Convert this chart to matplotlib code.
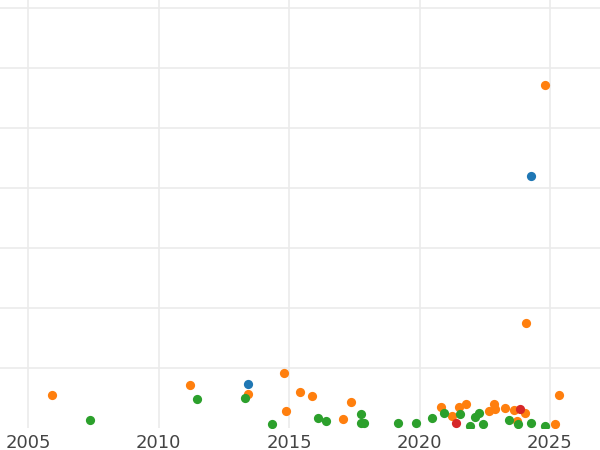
import matplotlib
matplotlib.use("Agg")
import matplotlib.pyplot as plt

# Data (year, value) per series
blue_x = [2013.43, 2024.28]
blue_y = [7.3, 41.9]

orange_x = [2005.91, 2011.21, 2013.44, 2014.81, 2014.90, 2015.42, 2015.89, 2017.07,
            2017.36, 2020.83, 2021.23, 2021.51, 2021.77, 2022.68, 2022.84, 2022.90,
            2023.28, 2023.63, 2023.72, 2024.06, 2025.18, 2025.36, 2024.81, 2024.09]
orange_y = [5.47, 7.08, 5.63, 9.03, 2.75, 5.87, 5.3, 1.47,
            4.2, 3.38, 1.95, 3.4, 3.88, 2.78, 3.88, 3.08,
            3.2, 2.92, 1.08, 2.47, 0.58, 5.45, 57.03, 17.37]

green_x = [2007.39, 2011.49, 2013.30, 2014.35, 2016.12, 2016.42, 2017.75, 2017.76,
           2017.87, 2019.16, 2019.85, 2020.47, 2020.94, 2021.55, 2021.92, 2022.13,
           2022.27, 2022.43, 2023.41, 2023.76, 2024.27, 2024.81]
green_y = [1.25, 4.7, 4.97, 0.58, 1.62, 1.08, 2.3, 0.67,
           0.7, 0.7, 0.8, 1.53, 2.37, 2.2, 0.3, 1.7,
           2.47, 0.55, 1.17, 0.53, 0.8, 0.3]

red_x = [2021.40, 2023.85]
red_y = [0.83, 3.08]

xticks = [2005, 2010, 2015, 2020, 2025]
xtick_labels = ["2005", "2010", "2015", "2020", "2025"]
yticks = [10, 20, 30, 40, 50, 60, 70]

fig = plt.figure(figsize=(6, 4.5), dpi=100)
ax = fig.add_axes([0, 0.05, 1, 0.95])

series = [(blue_x, blue_y, "#1f77b4"), (orange_x, orange_y, "#ff7f0e"),
          (green_x, green_y, "#2ca02c"), (red_x, red_y, "#d62728")]
for xs, ys, c in series:
    ax.scatter(xs, ys, s=44, color=c, linewidths=0, zorder=3)

ax.set_xlim(2005 - 28 / 26.1, 2005 + 572 / 26.1)
ax.set_ylim(0, 427.5 / 6)
ax.set_xticks(xticks)
ax.set_xticklabels(xtick_labels)
ax.set_yticks(yticks)
ax.tick_params(axis="x", length=0, pad=4.5, labelsize=13, labelcolor="#444444")
ax.tick_params(axis="y", length=0, labelleft=False)
ax.grid(True, color="#ebebeb", linewidth=1.2, zorder=0)
ax.set_axisbelow(True)
for s in ax.spines.values():
    s.set_visible(False)

fig.savefig("out.png", dpi=100)
